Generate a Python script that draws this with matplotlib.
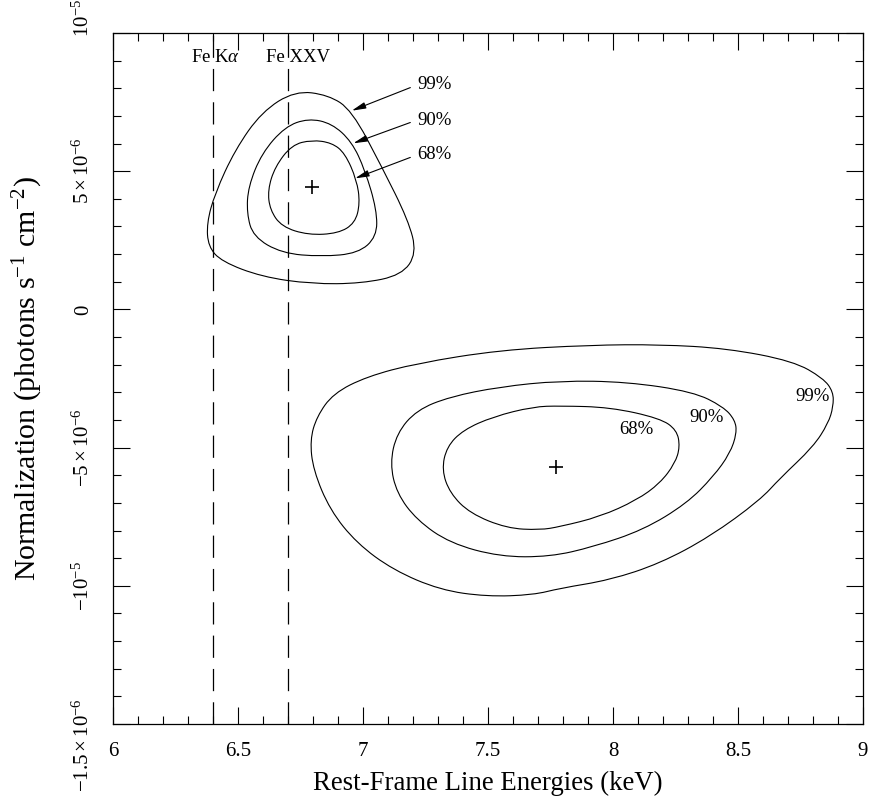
import matplotlib
matplotlib.use("Agg")
import matplotlib.pyplot as plt
import matplotlib.transforms as mtransforms
from matplotlib.path import Path
from matplotlib.patches import PathPatch
import numpy as np

# ---------- data ----------
# upper solution (line energy keV, normalization in 1e-6 photons/s/cm2)
up99_x = [6.728, 6.595, 6.488, 6.408, 6.375, 6.381, 6.435, 6.595, 6.795, 6.995,
          7.155, 7.215, 7.181, 7.075, 6.955, 6.861]
up99_y = [7.91, 7.15, 5.77, 4.20, 3.12, 2.27, 1.73, 1.18, 0.92, 0.94,
          1.24, 2.03, 3.23, 5.16, 7.21, 7.76]
up90_x = [6.781, 6.688, 6.595, 6.541, 6.535, 6.561, 6.675, 6.835, 6.981, 7.055,
          7.055, 7.008, 6.955, 6.875]
up90_y = [6.91, 6.61, 5.65, 4.44, 3.48, 2.63, 2.03, 1.91, 2.03, 2.63,
          3.60, 5.04, 6.07, 6.73]
up68_x = [6.795, 6.715, 6.648, 6.619, 6.628, 6.675, 6.781, 6.901, 6.968, 6.988,
          6.975, 6.928, 6.875]
up68_y = [6.13, 5.95, 5.16, 4.32, 3.60, 2.99, 2.69, 2.75, 3.12, 3.84,
          4.68, 5.65, 6.03]
up_best = (6.796, 4.43)

# lower solution
lo99_x = [6.788, 6.815, 6.881, 7.015, 7.215, 7.548, 7.908, 8.188, 8.455, 8.721,
          8.841, 8.881, 8.881, 8.861, 8.801, 8.668, 8.588, 8.388, 8.188, 7.988,
          7.788, 7.681, 7.495, 7.308, 7.121, 6.975, 6.868, 6.801]
lo99_y = [-4.73, -3.88, -3.04, -2.43, -1.95, -1.47, -1.29, -1.27, -1.41, -1.87,
          -2.49, -2.98, -3.52, -4.12, -4.97, -6.11, -6.90, -8.22, -9.19, -9.79,
          -10.09, -10.33, -10.39, -10.15, -9.43, -8.46, -7.26, -5.81]
lo90_x = [7.108, 7.135, 7.215, 7.348, 7.548, 7.788, 8.055, 8.321, 8.441, 8.488,
          8.495, 8.468, 8.401, 8.295, 8.121, 7.921, 7.748, 7.548, 7.348, 7.215,
          7.135]
lo90_y = [-5.57, -4.48, -3.64, -3.16, -2.80, -2.58, -2.62, -2.98, -3.52, -4.00,
          -4.48, -5.21, -6.05, -7.02, -7.98, -8.59, -8.95, -8.95, -8.46, -7.62,
          -6.65]
lo68_x = [7.315, 7.335, 7.401, 7.521, 7.681, 7.788, 7.988, 8.188, 8.255, 8.268,
          8.248, 8.188, 8.095, 7.948, 7.788, 7.708, 7.575, 7.428, 7.348]
lo68_y = [-5.81, -4.97, -4.36, -3.88, -3.52, -3.49, -3.54, -3.94, -4.36, -4.97,
          -5.57, -6.29, -6.90, -7.50, -7.86, -7.98, -7.92, -7.38, -6.65]
lo_best = (7.772, -5.69)

# reference line energies
line_names = [r"Fe K$\alpha$", "Fe XXV"]
line_energies = [6.4, 6.7]

# upper contour labels: arrow head and text position
up_labels = ["99%", "90%", "68%"]
up_head_x = [6.955, 6.961, 6.968]
up_head_y = [7.19, 6.01, 4.74]
up_text_y = [8.12, 6.85, 5.59]

# lower contour labels
lo_labels = ["99%", "90%", "68%"]
lo_text_x = [8.797, 8.375, 8.095]
lo_text_y = [-3.16, -3.90, -4.36]

ytick_vals = [10, 5, 0, -5, -10, -15]
ytick_text = [r"$10^{-5}$", r"$5\times10^{-6}$", "0", r"$-5\times10^{-6}$",
              r"$-10^{-5}$", r"$-1.5\times10^{-6}$"]

# ---------- style ----------
plt.rcParams["font.family"] = ["Liberation Serif", "DejaVu Serif"]
plt.rcParams["mathtext.fontset"] = "custom"
plt.rcParams["mathtext.rm"] = "Liberation Serif"
plt.rcParams["mathtext.it"] = "Liberation Serif:italic"
plt.rcParams["lines.scale_dashes"] = False

fig = plt.figure(figsize=(8.71, 8.01), dpi=100)
ax = fig.add_axes([113 / 871, 77 / 801, 750 / 871, 691 / 801])

S = 1e-6  # scale of stored normalization values


def contour_patch(xs, ys):
    # closed smooth curve with the read points as quadratic control points
    pts = np.column_stack([xs, np.asarray(ys) * S])
    mids = (pts + np.roll(pts, -1, axis=0)) / 2
    verts = [mids[-1]]
    codes = [Path.MOVETO]
    for p, m in zip(pts, mids):
        verts += [p, m]
        codes += [Path.CURVE3, Path.CURVE3]
    return PathPatch(Path(verts, codes), fill=False, edgecolor="black", lw=0.8)


for xs, ys in [(up99_x, up99_y), (up90_x, up90_y), (up68_x, up68_y),
               (lo99_x, lo99_y), (lo90_x, lo90_y), (lo68_x, lo68_y)]:
    ax.add_patch(contour_patch(xs, ys))

for bx, by in [up_best, lo_best]:
    ax.plot(bx, by * S, marker="+", color="black", ms=10, mew=1.2)

for name, e in zip(line_names, line_energies):
    ax.axvline(e, color="black", lw=0.9, dashes=(16, 8))
    ax.text(e - 0.088, 9.13 * S, name, fontsize=13.5, ha="left", va="center")

for lab, hx, hy, ty in zip(up_labels, up_head_x, up_head_y, up_text_y):
    ax.annotate(lab, xy=(hx, hy * S), xytext=(7.216, ty * S), fontsize=13.5,
                ha="left", va="center",
                arrowprops=dict(arrowstyle="-|>,head_length=0.7,head_width=0.16",
                                color="black", lw=0.8, shrinkA=3, shrinkB=0,
                                relpos=(0, 0.5), mutation_scale=12))

for lab, tx, ty in zip(lo_labels, lo_text_x, lo_text_y):
    ax.text(tx, ty * S, lab, fontsize=13.5, ha="center", va="center")

# ---------- axes ----------
ax.set_xlim(6, 9)
ax.set_ylim(-15 * S, 10 * S)
ax.set_xticks([6, 6.5, 7, 7.5, 8, 8.5, 9])
ax.set_xticklabels(["6", "6.5", "7", "7.5", "8", "8.5", "9"])
ax.set_xticks(np.arange(6, 9.01, 0.1), minor=True)
ax.set_yticks([v * S for v in ytick_vals])
ax.set_yticklabels(ytick_text, rotation=90, va="center")
ax.set_yticks(np.arange(-15, 10.1, 1) * S, minor=True)

ax.tick_params(which="both", direction="in", top=True, right=True, width=0.8,
               labelsize=15)
ax.tick_params(which="major", length=12)
ax.tick_params(which="minor", length=6)
ax.tick_params(axis="x", pad=13)
ax.tick_params(axis="y", pad=14)
for sp in ax.spines.values():
    sp.set_linewidth(0.9)

# top and bottom y labels sit off-centre in the reference
labels = ax.get_yticklabels()
labels[0].set_va("bottom")
labels[0].set_transform(labels[0].get_transform() +
                        mtransforms.ScaledTranslation(0, -4 / 100, fig.dpi_scale_trans))
labels[-1].set_transform(labels[-1].get_transform() +
                         mtransforms.ScaledTranslation(0, -21 / 100, fig.dpi_scale_trans))

ax.set_xlabel("Rest-Frame Line Energies (keV)", fontsize=19.3, labelpad=7)
ax.set_ylabel(r"Normalization (photons s$^{\mathrm{-1}}$ cm$^{\mathrm{-2}}$)",
              fontsize=21.5, labelpad=20)

fig.savefig("out.png", dpi=100)
